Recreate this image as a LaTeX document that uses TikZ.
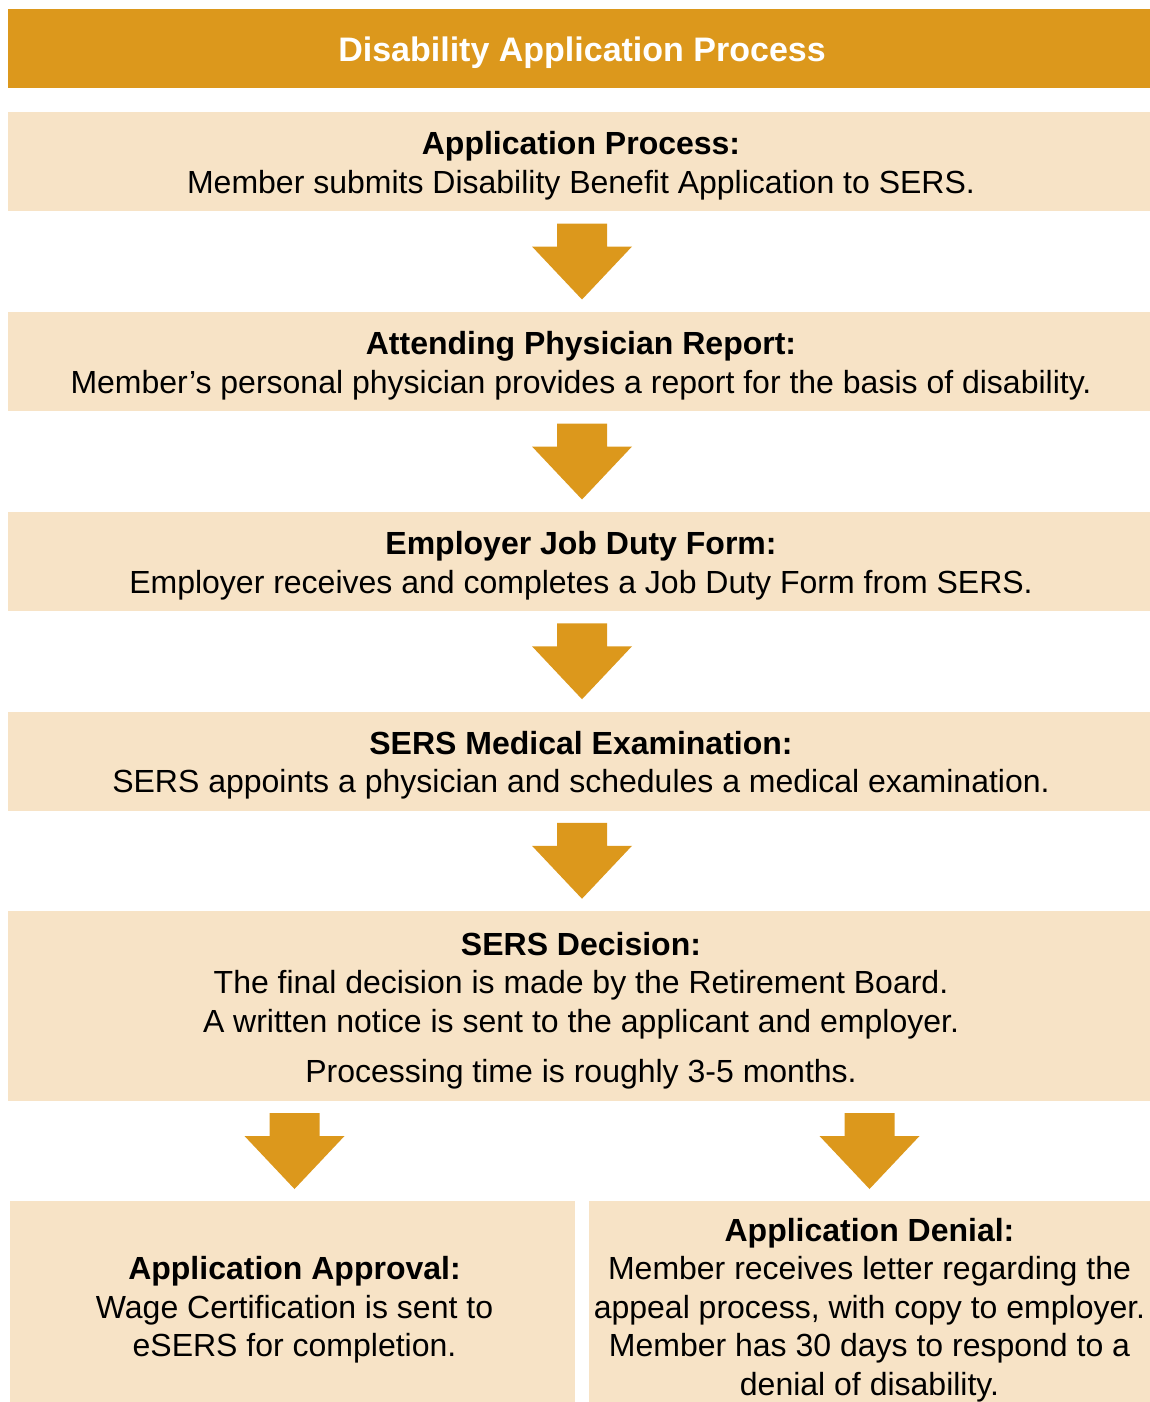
\documentclass[tikz,border=0pt]{standalone}
\usepackage{fontspec}
\setmainfont{Liberation Sans}
\usetikzlibrary{calc}
\definecolor{gold}{HTML}{DC981C}
\definecolor{cream}{HTML}{F7E3C6}
\tikzset{
  bodyfont/.style={font=\fontsize{32}{38.5}\selectfont},
  stepbox/.style={fill=cream, inner sep=0pt,
    minimum width=1142pt, minimum height=99pt},
  halfbox/.style={fill=cream, inner sep=0pt, minimum height=201pt},
  steptext/.style={bodyfont, align=center, inner sep=0pt},
  downarr/.pic={\fill[gold] (-25,-38) -- (25,-38) -- (25,-15) -- (50,-15)
    -- (0,38) -- (-50,-15) -- (-25,-15) -- cycle;}
}
\begin{document}
\begin{tikzpicture}[x=1pt,y=-1pt]
\useasboundingbox (0,0) rectangle (1150,1402);
\node[fill=gold, minimum width=1142pt, minimum height=79pt, inner sep=0pt] (title) at (579,48.5) {};
\node[text=white, inner sep=0pt, font=\bfseries\fontsize{34}{40}\selectfont] (tt) at ($(title.center)+(3,4)$)
  {Disability Application Process};
\node[stepbox] (b1) at (579,161.5) {};
\node[steptext] (t1) at ($(b1.center)+(2,4)$)
  {\textbf{Application Process:}\\Member submits Disability Benefit Application to SERS.};
\node[stepbox] (b2) at (579,361.5) {};
\node[steptext] (t2) at ($(b2.center)+(2,4)$)
  {\textbf{Attending Physician Report:}\\Member’s personal physician provides a report for the basis of disability.};
\node[stepbox] (b3) at (579,561.5) {};
\node[steptext] (t3) at ($(b3.center)+(2,4)$)
  {\textbf{Employer Job Duty Form:}\\Employer receives and completes a Job Duty Form from SERS.};
\node[stepbox] (b4) at (579,761) {};
\node[steptext] (t4) at ($(b4.center)+(2,4)$)
  {\textbf{SERS Medical Examination:}\\SERS appoints a physician and schedules a medical examination.};
\node[stepbox, minimum height=190pt] (b5) at (579,1006) {};
\node[steptext] (t5) at ($(b5.center)+(2,4.5)$)
  {\textbf{SERS Decision:}\\The final decision is made by the Retirement Board.\\A written notice is sent to the applicant and employer.\\[12pt]Processing time is roughly 3-5 months.};
\node[halfbox, minimum width=565pt] (b6) at (292.5,1301.5) {};
\node[steptext] (t6) at ($(b6.center)+(2,8.5)$)
  {\textbf{Application Approval:}\\Wage Certification is sent to\\eSERS for completion.};
\node[halfbox, minimum width=561pt] (b7) at (869.5,1301.5) {};
\node[steptext] (t7) at ($(b7.center)+(0,8.5)$)
  {\textbf{Application Denial:}\\Member receives letter regarding the\\appeal process, with copy to employer.\\Member has 30 days to respond to a\\denial of disability.};
\pic at ($(b1.south)!0.5!(b2.north)+(3,0)$) {downarr};
\pic at ($(b2.south)!0.5!(b3.north)+(3,0)$) {downarr};
\pic at ($(b3.south)!0.5!(b4.north)+(3,0)$) {downarr};
\pic at ($(b4.south)!0.5!(b5.north)+(3,0)$) {downarr};
\pic at ($(b6.north|-b5.south)!0.5!(b6.north)+(2,0)$) {downarr};
\pic at ($(b7.north|-b5.south)!0.5!(b7.north)$) {downarr};
\end{tikzpicture}
\end{document}
